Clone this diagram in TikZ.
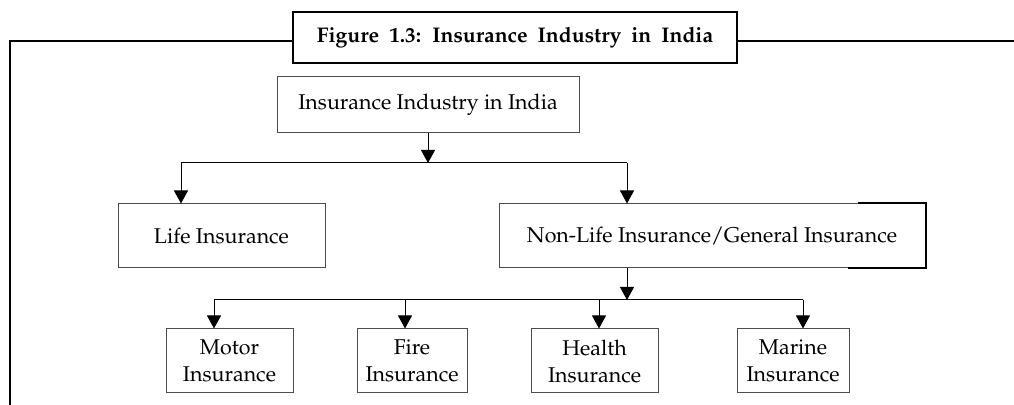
\documentclass[tikz,border=0pt]{standalone}
\usepackage[T1]{fontenc}
\usepackage{mathpazo}
\usepackage{tikz}
\usetikzlibrary{arrows.meta}

\tikzset{
    box/.style={draw=black!70, line width=.5pt, align=center, inner sep=0pt, font=\fontsize{10.7}{13}\selectfont},
    leaf/.style={box, minimum height=32pt, font=\fontsize{10.7}{13.5}\selectfont},
    arr/.style={-{Triangle[length=6.5pt,width=7pt]}, line width=.5pt},
}

\begin{document}
\begin{tikzpicture}[x=.5pt, y=-.5pt]
    \useasboundingbox (0, 0) rectangle (1014, 405);
    \node[draw, line width=1pt, minimum width=222pt, minimum height=25.5pt, inner sep=0pt,
          font=\bfseries\fontsize{10.6}{12}\selectfont] (title) at (515, 37.5) {\spaceskip=5pt Figure 1.3: Insurance Industry in India};
    \coordinate (tl) at (10, 41);
    \coordinate (bl) at (10, 405);
    \coordinate (tr) at (1014, 41);
    \draw[line width=1pt] (title.west |- tl) -- (tl) -- (bl);
    \draw[line width=1pt] (title.east |- tr) -- (tr);

    \node[box, minimum width=151pt, minimum height=28pt] (india) at (428, 105) {Insurance Industry in India};
    \node[box, minimum width=103.5pt, minimum height=32pt] (life) at (221.5, 236) {Life Insurance};
    \node[box, minimum width=213pt, minimum height=32pt] (nonlife) at (712, 236) {Non-Life Insurance/General Insurance};
    \draw[line width=1pt] ([xshift=-34pt]nonlife.north east) -- (nonlife.north east) -- (nonlife.south east) -- ([xshift=-39pt]nonlife.south east);

    \node[leaf, minimum width=63.5pt] (motor) at (229.5, 361) {Motor\\Insurance};
    \node[leaf, minimum width=55pt] (fire) at (412, 361) {Fire\\Insurance};
    \node[leaf, minimum width=63.5pt] (health) at (594.5, 361) {Health\\Insurance};
    \node[leaf, minimum width=56pt] (marine) at (793, 361) {Marine\\Insurance};

    % first level
    \coordinate (lj) at (181, 163);
    \coordinate (rj) at (627, 163);
    \draw[arr] (india.south) -- (india.south |- lj);
    \draw[line width=.5pt] (lj) -- (rj);
    \draw[arr] (lj) -- (lj |- life.north);
    \draw[arr] (rj) -- (rj |- nonlife.north);

    % second level
    \coordinate (mj) at (214, 300);
    \coordinate (fj) at (405, 300);
    \coordinate (hj) at (599, 300);
    \coordinate (sj) at (803, 300);
    \draw[arr] (rj |- nonlife.south) -- (rj |- mj);
    \draw[line width=.5pt] (mj) -- (sj);
    \draw[arr] (mj) -- (mj |- motor.north);
    \draw[arr] (fj) -- (fj |- fire.north);
    \draw[arr] (hj) -- (hj |- health.north);
    \draw[arr] (sj) -- (sj |- marine.north);
\end{tikzpicture}
\end{document}
